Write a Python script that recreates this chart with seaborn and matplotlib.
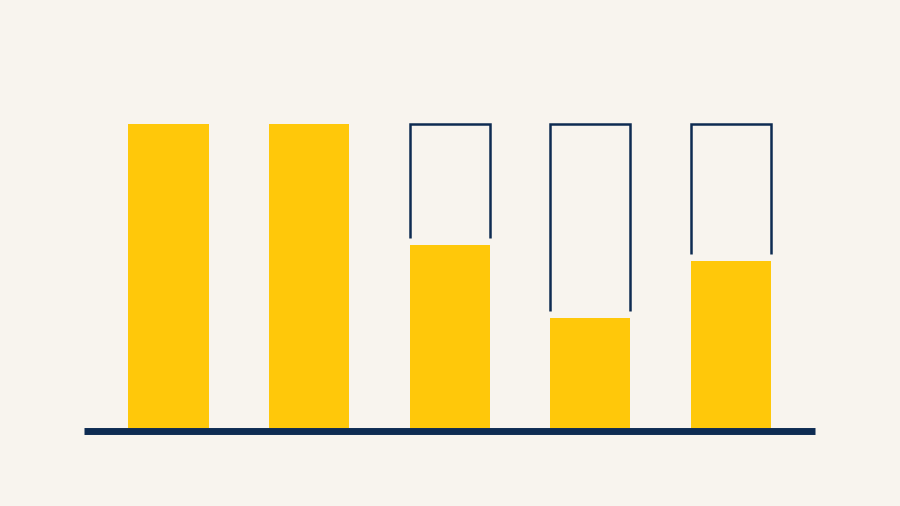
import matplotlib
matplotlib.use("Agg")
import matplotlib.pyplot as plt
import seaborn as sns
import pandas as pd

# five bars, scale 0-100 (first two full, the rest partly filled)
categories = ["A", "B", "C", "D", "E"]
values = [100, 100, 60, 36, 55]
capacity = 100

bg = "#F8F4EE"
yellow = "#FFC80A"
navy = "#0E2B52"

df = pd.DataFrame({"cat": categories, "val": values})

sns.set_theme(style="white")
fig = plt.figure(figsize=(9, 5.065), dpi=100, facecolor=bg)
ax = fig.add_axes([0, 0, 1, 1])
ax.set_facecolor(bg)

bar_w = 0.57
sns.barplot(data=df, x="cat", y="val", color=yellow, saturation=1,
            width=bar_w, ax=ax, linewidth=0)

# outline of the empty part above the partial bars
gap = 2.3
for i, v in enumerate(values):
    if v < capacity:
        x0, x1 = i - bar_w / 2, i + bar_w / 2
        ax.plot([x0, x0, x1, x1], [v + gap, capacity, capacity, v + gap],
                color=navy, lw=1.8, solid_joinstyle="miter",
                solid_capstyle="butt")

# baseline
ax.hlines(-1.15, -0.6, 4.6, color=navy, lw=5.0)

ax.set_xlim(-1.198, 5.203)
ax.set_ylim(-25.66, 140.79)
ax.axis("off")

fig.savefig("out.png", dpi=100, facecolor=bg)
